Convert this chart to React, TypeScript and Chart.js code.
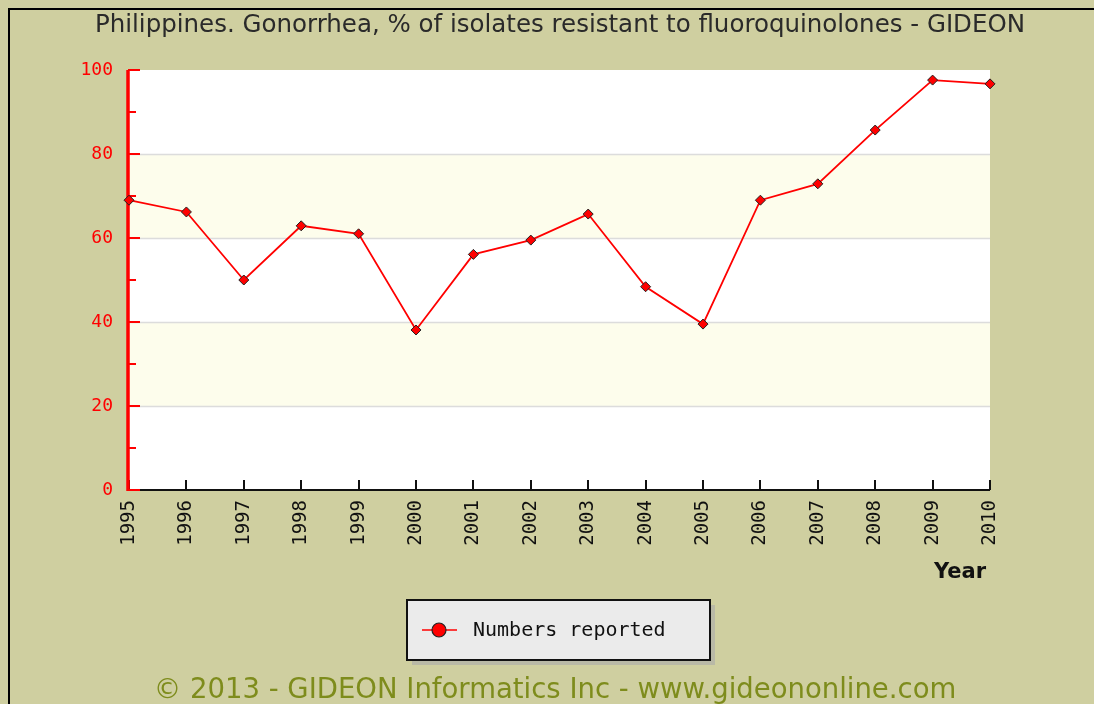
import React, { useEffect, useRef } from "react";
import { Chart, registerables } from "chart.js";

Chart.register(...registerables);

const years = ["1995", "1996", "1997", "1998", "1999", "2000", "2001", "2002", "2003", "2004", "2005", "2006", "2007", "2008", "2009", "2010"];
const resistantPct = [69.0, 66.2, 50.0, 62.9, 61.0, 38.1, 56.1, 59.5, 65.7, 48.4, 39.5, 69.0, 72.9, 85.7, 97.6, 96.7];
const yTicks = [0, 20, 40, 60, 80, 100];
const titleText = "Philippines. Gonorrhea, % of isolates resistant to fluoroquinolones - GIDEON";
const footerText = "\u00A9 2013 - GIDEON Informatics Inc - www.gideononline.com";
const legendLabel = "Numbers reported";
const xAxisTitle = "Year";

const BG = "#CFCFA0";
const BAND = "#FDFDEC";
const MONO = "'DejaVu Sans Mono', monospace";

const decorPlugin = {
  id: "gideonDecor",
  beforeDraw(chart: any) {
    const ctx = chart.ctx;
    const { left, right, top, bottom } = chart.chartArea;
    const y = chart.scales.y;
    ctx.save();
    ctx.fillStyle = BG;
    ctx.fillRect(0, 0, chart.width, chart.height);
    // outer border (top + left)
    ctx.strokeStyle = "#000";
    ctx.lineWidth = 2;
    ctx.beginPath();
    ctx.moveTo(9, chart.height);
    ctx.lineTo(9, 9);
    ctx.lineTo(chart.width, 9);
    ctx.stroke();
    // plot background + bands
    ctx.fillStyle = "#FFFFFF";
    ctx.fillRect(left, top, right - left, bottom - top);
    ctx.fillStyle = BAND;
    for (let i = 0; i < yTicks.length - 1; i++) {
      if (i % 2 === 1) {
        const y1 = y.getPixelForValue(yTicks[i + 1]);
        const y0 = y.getPixelForValue(yTicks[i]);
        ctx.fillRect(left, y1, right - left, y0 - y1);
      }
    }
    // grid lines
    ctx.strokeStyle = "#DCDCDC";
    ctx.lineWidth = 1.5;
    yTicks.forEach((v) => {
      if (v === 0 || v === 100) return;
      const py = Math.round(y.getPixelForValue(v)) + 0.5;
      ctx.beginPath();
      ctx.moveTo(left, py);
      ctx.lineTo(right, py);
      ctx.stroke();
    });
    ctx.restore();
  },
  beforeDatasetsDraw(chart: any) {
    const ctx = chart.ctx;
    const { left, right, top, bottom } = chart.chartArea;
    const x = chart.scales.x;
    const y = chart.scales.y;
    ctx.save();
    // x axis
    ctx.strokeStyle = "#111";
    ctx.lineWidth = 2;
    ctx.beginPath();
    ctx.moveTo(left, bottom);
    ctx.lineTo(right, bottom);
    ctx.stroke();
    years.forEach((_, i) => {
      const px = Math.round(x.getPixelForValue(i));
      ctx.beginPath();
      ctx.moveTo(px, bottom);
      ctx.lineTo(px, bottom - 10);
      ctx.stroke();
    });
    // y axis (red)
    ctx.strokeStyle = "#FF0000";
    ctx.lineWidth = 3.5;
    ctx.beginPath();
    ctx.moveTo(left - 1, top);
    ctx.lineTo(left - 1, bottom + 1);
    ctx.stroke();
    ctx.lineWidth = 2;
    for (let v = 0; v <= 100; v += 10) {
      const py = Math.round(y.getPixelForValue(v));
      const len = v % 20 === 0 ? 12 : 8;
      ctx.beginPath();
      ctx.moveTo(left - 1, py);
      ctx.lineTo(left - 1 + len, py);
      ctx.stroke();
    }
    ctx.restore();
  },
  afterDraw(chart: any) {
    const ctx = chart.ctx;
    ctx.save();
    // title
    ctx.fillStyle = "#2A2A2A";
    ctx.font = "24.5px 'DejaVu Sans', sans-serif";
    ctx.textAlign = "center";
    ctx.textBaseline = "middle";
    ctx.fillText(titleText, 560, 26);
    // axis title
    ctx.fillStyle = "#111";
    ctx.font = "bold 21px 'DejaVu Sans', sans-serif";
    ctx.textAlign = "right";
    ctx.fillText(xAxisTitle, 986, 573);
    // legend box
    const bx = 407, by = 600, bw = 303, bh = 60;
    ctx.fillStyle = "#B9B9A6";
    ctx.fillRect(bx + 5, by + 5, bw, bh);
    ctx.fillStyle = "#EBEBEB";
    ctx.fillRect(bx, by, bw, bh);
    ctx.strokeStyle = "#111";
    ctx.lineWidth = 2;
    ctx.strokeRect(bx, by, bw, bh);
    ctx.strokeStyle = "#FF0000";
    ctx.lineWidth = 1.5;
    ctx.beginPath();
    ctx.moveTo(422, 630);
    ctx.lineTo(457, 630);
    ctx.stroke();
    ctx.fillStyle = "#FF0000";
    ctx.strokeStyle = "#222";
    ctx.lineWidth = 1.2;
    ctx.beginPath();
    ctx.arc(439, 630, 7, 0, Math.PI * 2);
    ctx.fill();
    ctx.stroke();
    ctx.fillStyle = "#111";
    ctx.font = "20px " + MONO;
    ctx.textAlign = "left";
    ctx.textBaseline = "middle";
    ctx.fillText(legendLabel, 473, 631);
    // footer
    ctx.fillStyle = "#7E8C1C";
    ctx.font = "27.5px 'DejaVu Sans', sans-serif";
    ctx.textAlign = "center";
    ctx.textBaseline = "alphabetic";
    ctx.fillText(footerText, 555, 698);
    ctx.restore();
  },
};

export default function App() {
  const ref = useRef<HTMLCanvasElement | null>(null);
  useEffect(() => {
    if (!ref.current) return;
    const chart = new Chart(ref.current, {
      type: "line",
      data: {
        labels: years,
        datasets: [
          {
            label: legendLabel,
            data: resistantPct,
            borderColor: "#FF0000",
            borderWidth: 1.8,
            backgroundColor: "#FF0000",
            pointStyle: "rectRot",
            pointRadius: 5,
            pointBorderColor: "#222",
            pointBorderWidth: 1,
            pointBackgroundColor: "#FF0000",
            tension: 0,
            clip: false as any,
          },
        ],
      },
      options: {
        animation: false,
        responsive: false,
        devicePixelRatio: 1,
        layout: { padding: { left: 69, right: 104, top: 70, bottom: 154 } },
        plugins: {
          legend: { display: false },
          title: { display: false },
          tooltip: { enabled: false },
        },
        scales: {
          x: {
            type: "category",
            offset: false,
            grid: { display: false, drawTicks: false },
            border: { display: false },
            ticks: {
              color: "#111",
              font: { family: MONO, size: 19 },
              minRotation: 90,
              maxRotation: 90,
              autoSkip: false,
              padding: 10,
            },
            afterFit(scale: any) {
              scale.height = 60;
            },
          },
          y: {
            min: 0,
            max: 100,
            grid: { display: false, drawTicks: false },
            border: { display: false },
            ticks: {
              stepSize: 20,
              color: "#FF0000",
              font: { family: MONO, size: 18 },
              padding: 16,
            },
            afterFit(scale: any) {
              scale.width = 60;
            },
          },
        },
      },
      plugins: [decorPlugin],
    });
    return () => chart.destroy();
  }, []);
  return (
    <div style={{ position: "fixed", left: 0, top: 0, width: 1094, height: 704, overflow: "hidden" }}>
      <canvas ref={ref} width={1094} height={704} style={{ display: "block", width: 1094, height: 704 }} />
    </div>
  );
}
